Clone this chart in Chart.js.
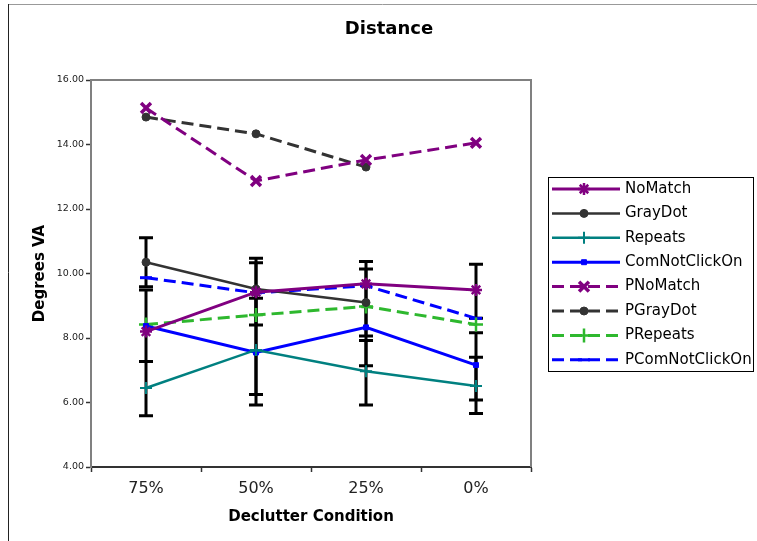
<!DOCTYPE html>
<html>
<head>
<meta charset="utf-8">
<title>Distance</title>
<script src="https://cdn.jsdelivr.net/npm/chart.js@4/dist/chart.umd.min.js"></script>
<style>
  html, body { margin: 0; padding: 0; background: #fff; overflow: hidden; }
  #wrap { position: absolute; left: 0; top: 0; width: 757px; height: 541px; }
</style>
</head>
<body>
<div id="wrap"><canvas id="c" width="757" height="541"></canvas></div>
<script>
// Declutter conditions along the x axis
const categories = ['75%', '50%', '25%', '0%'];

// Mean distance (degrees of visual angle) per condition
const noMatch        = [8.2, 9.42, 9.68, 9.49];
const grayDot        = [10.35, 9.52, 9.1, null];
const repeats        = [6.45, 7.63, 6.97, 6.51];
const comNotClickOn  = [8.37, 7.55, 8.33, 7.16];
const pNoMatch       = [15.13, 12.87, 13.52, 14.05];
const pGrayDot       = [14.85, 14.33, 13.3, null];
const pRepeats       = [8.42, 8.71, 8.98, 8.42];
const pComNotClickOn = [9.87, 9.4, 9.62, 8.61];

// Error bar extents (plus / minus) for the measured series
const noMatchErrPlus   = [null, null, null, 0.80];
const noMatchErrMinus  = [null, null, null, 0.88];
const grayDotErrPlus   = [0.76, 0.95, 1.04, null];
const grayDotErrMinus  = [0.76, 1.12, 1.04, null];
const repeatsErrPlus   = [0.82, 1.60, 0.95, 0.89];
const repeatsErrMinus  = [0.86, 1.71, 1.05, 0.85];
const comErrPlus       = [1.12, 2.78, 2.04, 1.00];
const comErrMinus      = [1.10, 1.30, 1.19, 1.08];

// Y axis range
const yMin = 4, yMax = 16, yStep = 2;

const PURPLE = '#800080', GRAY = '#333333', TEAL = '#008080', BLUE = '#0000FF', GREEN = '#2EB82E';
const DASH = [12, 6];

Chart.defaults.font.family = "'DejaVu Sans', Verdana, sans-serif";
Chart.defaults.color = '#000';

function series(label, data, color, style, opts) {
  return Object.assign({
    label: label,
    data: data,
    borderColor: color,
    backgroundColor: color,
    pointBackgroundColor: color,
    pointBorderColor: color,
    borderWidth: 3,
    pointStyle: style,
    pointRadius: 5,
    pointHoverRadius: 5,
    pointBorderWidth: 2.5,
    tension: 0,
    fill: false,
    spanGaps: false
  }, opts || {});
}

const datasets = [
  series('NoMatch', noMatch, PURPLE, 'star', { pointRadius: 6, errPlus: noMatchErrPlus, errMinus: noMatchErrMinus }),
  series('GrayDot', grayDot, GRAY, 'circle', { borderWidth: 2.5, pointRadius: 4, pointBorderWidth: 1, errPlus: grayDotErrPlus, errMinus: grayDotErrMinus }),
  series('Repeats', repeats, TEAL, 'cross', { borderWidth: 2.5, pointRadius: 6, pointBorderWidth: 2, errPlus: repeatsErrPlus, errMinus: repeatsErrMinus }),
  series('ComNotClickOn', comNotClickOn, BLUE, 'rect', { pointRadius: 3.5, pointBorderWidth: 1, errPlus: comErrPlus, errMinus: comErrMinus }),
  series('PNoMatch', pNoMatch, PURPLE, 'crossRot', { borderDash: DASH, pointRadius: 7, pointBorderWidth: 3.5 }),
  series('PGrayDot', pGrayDot, GRAY, 'circle', { borderDash: DASH, pointRadius: 4, pointBorderWidth: 1 }),
  series('PRepeats', pRepeats, GREEN, 'cross', { borderDash: DASH, pointRadius: 7, pointBorderWidth: 2.5 }),
  series('PComNotClickOn', pComNotClickOn, BLUE, 'line', { borderDash: DASH, pointRadius: 6, pointBorderWidth: 3 })
];

// Outer frame, plot frame and title
const framePlugin = {
  id: 'frame',
  beforeDatasetsDraw(chart) {
    const { ctx, chartArea: a } = chart;
    ctx.save();
    ctx.strokeStyle = '#808080';
    ctx.lineWidth = 2;
    ctx.beginPath();
    ctx.moveTo(a.left, a.top);
    ctx.lineTo(a.right, a.top);
    ctx.lineTo(a.right, a.bottom);
    ctx.stroke();
    ctx.restore();
  },
  afterDraw(chart) {
    const { ctx } = chart;
    ctx.save();
    ctx.lineWidth = 1;
    ctx.strokeStyle = '#999';
    ctx.beginPath(); ctx.moveTo(8, 4.5); ctx.lineTo(757, 4.5); ctx.stroke();
    ctx.strokeStyle = '#222';
    ctx.beginPath(); ctx.moveTo(8.5, 4); ctx.lineTo(8.5, 541); ctx.stroke();
    ctx.fillStyle = '#000';
    ctx.font = "bold 18px 'DejaVu Sans', Verdana, sans-serif";
    ctx.textAlign = 'center';
    ctx.textBaseline = 'middle';
    ctx.fillText('Distance', 389, 29);
    ctx.restore();
  }
};

// Vertical error bars with caps, drawn under the lines
const errorBarPlugin = {
  id: 'errorBars',
  beforeDatasetsDraw(chart) {
    const { ctx } = chart;
    const y = chart.scales.y;
    ctx.save();
    ctx.strokeStyle = '#000';
    ctx.lineWidth = 3;
    ctx.lineCap = 'butt';
    chart.data.datasets.forEach((ds, di) => {
      if (!ds.errPlus) return;
      const meta = chart.getDatasetMeta(di);
      ds.data.forEach((v, i) => {
        if (v == null || ds.errPlus[i] == null) return;
        const x = meta.data[i].x;
        const yt = y.getPixelForValue(v + ds.errPlus[i]);
        const yb = y.getPixelForValue(v - ds.errMinus[i]);
        ctx.beginPath();
        ctx.moveTo(x, yt); ctx.lineTo(x, yb);
        ctx.moveTo(x - 7, yt); ctx.lineTo(x + 7, yt);
        ctx.moveTo(x - 7, yb); ctx.lineTo(x + 7, yb);
        ctx.stroke();
      });
    });
    ctx.restore();
  }
};

// Boxed legend with line samples and markers
const legendPlugin = {
  id: 'boxLegend',
  afterDraw(chart) {
    const { ctx } = chart;
    const bx = 548, by = 177, bw = 205, bh = 194;
    const rowH = 24.4, firstY = 189;
    ctx.save();
    ctx.strokeStyle = '#000';
    ctx.lineWidth = 1;
    ctx.strokeRect(bx + 0.5, by + 0.5, bw, bh);
    chart.data.datasets.forEach((ds, i) => {
      const yy = firstY + i * rowH;
      ctx.strokeStyle = ds.borderColor;
      ctx.lineWidth = ds.borderWidth;
      ctx.setLineDash(ds.borderDash || []);
      ctx.beginPath();
      ctx.moveTo(552, yy); ctx.lineTo(620, yy);
      ctx.stroke();
      ctx.setLineDash([]);
      ctx.fillStyle = ds.pointBackgroundColor;
      ctx.strokeStyle = ds.pointBorderColor;
      ctx.lineWidth = ds.pointBorderWidth;
      Chart.helpers.drawPoint(ctx, {
        pointStyle: ds.pointStyle, rotation: 0,
        radius: ds.pointRadius, borderWidth: ds.pointBorderWidth
      }, 584, yy);
      ctx.fillStyle = '#000';
      ctx.font = "15px 'DejaVu Sans', Verdana, sans-serif";
      ctx.textAlign = 'left';
      ctx.textBaseline = 'middle';
      ctx.fillText(ds.label, 625, yy);
    });
    ctx.restore();
  }
};

new Chart(document.getElementById('c'), {
  type: 'line',
  data: { labels: categories, datasets: datasets },
  options: {
    responsive: false,
    animation: false,
    events: [],
    layout: { padding: { left: 8, top: 80, right: 226, bottom: 0 } },
    plugins: { legend: { display: false }, title: { display: false }, tooltip: { enabled: false } },
    scales: {
      x: {
        type: 'category',
        offset: true,
        afterFit(s) { s.height = 74; },
        grid: { offset: true, drawOnChartArea: false, drawTicks: true, tickLength: 5, tickWidth: 1.5, tickColor: '#333' },
        border: { display: true, color: '#333', width: 2 },
        ticks: { padding: 7, color: '#222', font: { size: 16 } },
        title: { display: true, text: 'Declutter Condition', color: '#000', font: { size: 15, weight: 'bold' }, padding: { top: 0, bottom: 15 } }
      },
      y: {
        min: yMin, max: yMax,
        afterFit(s) { s.width = 83; },
        grid: { drawOnChartArea: false, drawTicks: true, tickLength: 5, tickWidth: 1.5, tickColor: '#333' },
        border: { display: true, color: '#808080', width: 2 },
        ticks: { stepSize: yStep, padding: 2, color: '#222', font: { size: 9.5 }, callback: v => Number(v).toFixed(2) },
        title: { display: true, text: 'Degrees VA', color: '#000', font: { size: 15, weight: 'bold' }, padding: { top: 23, bottom: 0 } }
      }
    }
  },
  plugins: [framePlugin, errorBarPlugin, legendPlugin]
});
</script>
</body>
</html>
